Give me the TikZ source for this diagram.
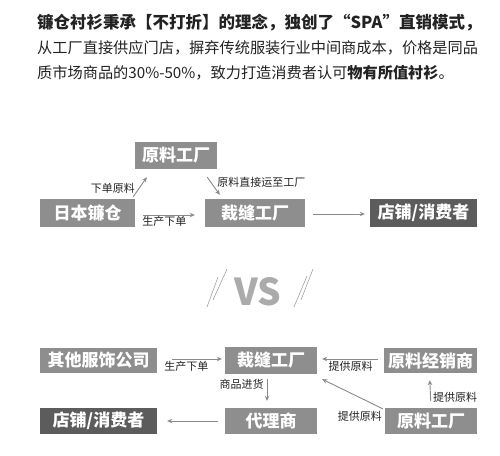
\documentclass[tikz,border=0pt]{standalone}
\usepackage{fontspec}
\newfontfamily\cjk{Noto Sans CJK SC}
\usetikzlibrary{arrows.meta,positioning,calc}
\definecolor{bxGray}{HTML}{8E8E8E}
\definecolor{bxDark}{HTML}{5C5C5C}
\definecolor{lnGray}{HTML}{8A8A8A}
\definecolor{txDark}{HTML}{222222}
\definecolor{vsGray}{HTML}{ABABAB}

\begin{document}
\begin{tikzpicture}[x=1pt,y=-1pt,font=\cjk,
      bx/.style={fill=bxGray,text=white,inner sep=0pt,minimum height=27pt,
                 font=\cjk\bfseries\fontsize{17}{17}\selectfont},
      bxd/.style={bx,fill=bxDark},
      lbl/.style={text=txDark,inner sep=0pt,font=\cjk\fontsize{11}{11}\selectfont},
      arr/.style={-{Stealth[length=5pt,width=4.5pt]},lnGray,line width=0.9pt}]
    \useasboundingbox (0,0) rectangle (500,455);

    % intro text
    \node[anchor=base west,align=left,inner sep=0pt,text=txDark,
          font=\cjk\fontsize{15.2}{25}\selectfont] (intro) at (37,78)
      {{\fontsize{16.5}{25}\selectfont\bfseries 镰仓衬衫秉承【不打折】的理念，独创了“SPA”直销模式，}\\
       从工厂直接供应门店，摒弃传统服装行业中间商成本，价格是同品\\
       质市场商品的30\%-50\%，致力打造消费者认可\textbf{物有所值衬衫}。};

    % upper chain
    \node[bx,minimum width=82pt]  (ylA) at (176,155.5) {原料工厂};
    \node[bx,minimum width=95pt,minimum height=28pt]  (jp)  at (87.5,213) {日本镰仓};
    \node[bx,minimum width=100pt,minimum height=28pt] (cfA) at (255,213)  {裁缝工厂};
    \node[bxd,minimum width=107pt,minimum height=28pt](dpA) at (423.5,213){店铺/消费者};

    \draw[arr] ([xshift=-2pt,yshift=2pt]jp.north east) -- ([xshift=12pt,yshift=-8pt]ylA.south west)
      node[lbl,pos=.45,left=4pt] {下单原料};
    \draw[arr] ([xshift=-10pt,yshift=-8pt]ylA.south east) -- ([xshift=15pt,yshift=4pt]cfA.north west);
    \node[lbl,anchor=west] (ylnote) at ([xshift=0pt,yshift=-13pt]ylA.south east) {原料直接运至工厂};
    \draw[arr,shorten <=8pt,shorten >=10pt] ([yshift=-2pt]jp.east) -- ([yshift=-2pt]cfA.west)
      node[lbl,pos=.42,below=1pt] {生产下单};
    \draw[arr,shorten <=8pt,shorten >=5pt] ([yshift=-1pt]cfA.east) -- ([yshift=-1pt]dpA.west);

    % versus
    \node[text=vsGray,inner sep=0pt,font=\cjk\bfseries\fontsize{37}{37}\selectfont] (vs) at (258,292) {VS};
    \draw[lnGray!80,line width=0.6pt] (207,307) -- (218,277) (213,300) -- (227,269);
    \draw[lnGray!80,line width=0.6pt] (294,307) -- (307,276) (301,300) -- (313,269);

    % lower chain
    \node[bx,minimum width=117pt,minimum height=25pt] (qt)  at (98.5,360.5) {其他服饰公司};
    \node[bx,minimum width=92pt]                      (cfB) at (271,360.5)  {裁缝工厂};
    \node[bx,minimum width=93pt,minimum height=25pt]  (jx)  at (430.5,360.5){原料经销商};
    \node[bxd,minimum width=117pt,minimum height=26pt](dpB) at (98.5,421)   {店铺/消费者};
    \node[bx,minimum width=92pt,minimum height=26pt]  (dl)  at (271,421)    {代理商};
    \node[bx,minimum width=92pt,minimum height=26pt]  (ylB) at (431,421)    {原料工厂};

    \draw[arr,shorten <=15pt,shorten >=3pt] ([yshift=1.5pt]qt.east) -- ([yshift=1.5pt]cfB.west)
      node[lbl,pos=.43,below=2pt] {生产下单};
    \draw[arr,shorten <=6pt,shorten >=5pt] ([yshift=1.5pt]jx.west) -- ([yshift=1.5pt]cfB.east)
      node[lbl,pos=.5,below=2pt] {提供原料};
    \draw[arr,shorten <=5pt,shorten >=7pt] ([xshift=-4pt]cfB.south) -- ([xshift=-4pt]dl.north)
      node[lbl,pos=.3,left=3pt] {商品进货};
    \draw[arr] ([xshift=-2pt,yshift=-1pt]ylB.north west) -- ([xshift=5pt,yshift=-5pt]cfB.south east)
      node[lbl,pos=.38,below=13pt] {提供原料};
    \draw[arr,shorten <=7pt,shorten >=7pt] (ylB.north) -- ([xshift=-1pt]jx.south)
      node[lbl,pos=.3,right=2pt] {提供原料};
    \draw[arr,shorten <=7pt,shorten >=10pt] (dl.west) -- (dpB.east);
\end{tikzpicture}
\end{document}
